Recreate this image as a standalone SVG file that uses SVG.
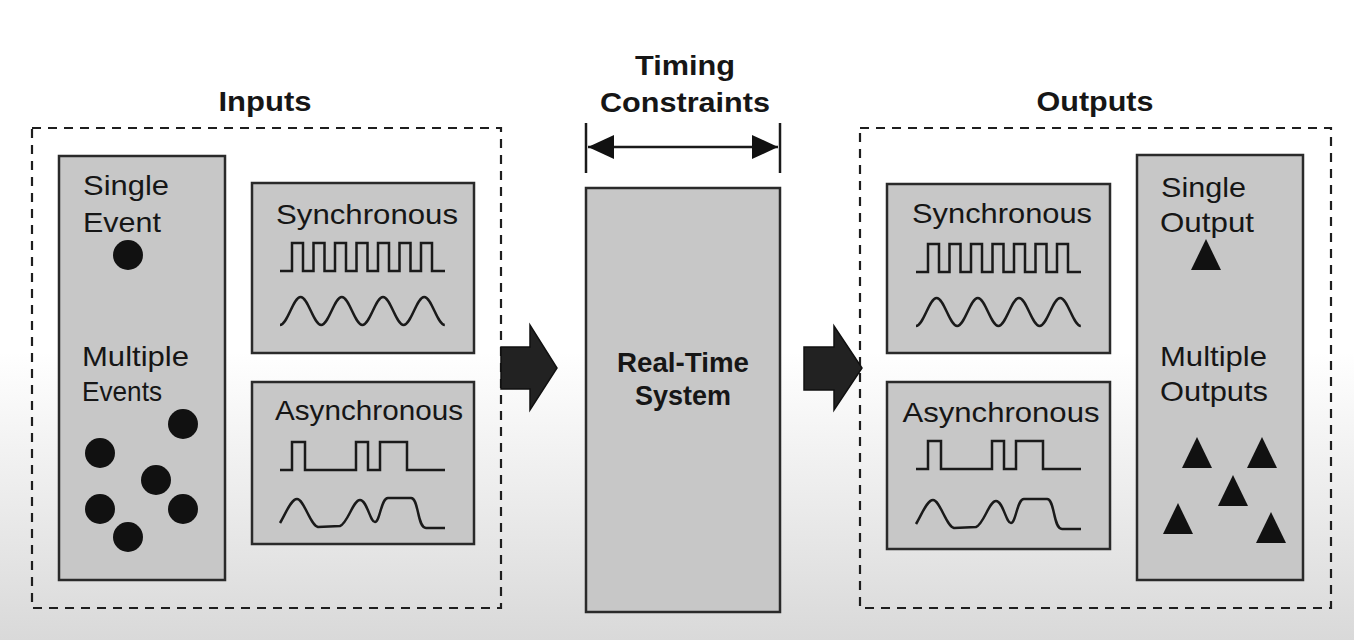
<svg xmlns="http://www.w3.org/2000/svg" width="1354" height="640" viewBox="0 0 1354 640">
<defs>
<linearGradient id="bg" x1="0" y1="0" x2="0" y2="1">
<stop offset="0" stop-color="#ffffff"/>
<stop offset="0.55" stop-color="#ffffff"/>
<stop offset="1" stop-color="#d9d9d9"/>
</linearGradient>
<path id="sq" d="M0,0 H12 V-28 H23 V0 H33.5 V-28 H44.5 V0 H55 V-28 H66 V0 H76.5 V-28 H87.5 V0 H98 V-28 H109 V0 H119.5 V-28 H130.5 V0 H141 V-28 H152 V0 H165"/>
<path id="sine" d="M0,0 c7.5,0 13.1,-28 20.6,-28 c7.5,0 13.1,28 20.6,28 c7.5,0 13.1,-28 20.6,-28 c7.5,0 13.1,28 20.6,28 c7.5,0 13.1,-28 20.6,-28 c7.5,0 13.1,28 20.6,28 c7.5,0 13.1,-28 20.6,-28 c7.5,0 13.1,28 20.6,28"/>
<path id="asq" d="M0,0 H12 V-28 H25 V0 H76 V-28 H88 V0 H100 V-28 H127 V0 H165"/>
<path id="awave" d="M0,0 C6,-10 11,-24 17,-24 C24,-24 30,2 38,4 L60,3 C68,0 73,-23 80,-23 C87,-23 90,-1 95,-1 C100,-1 101,-25 108,-25 L131,-25 C139,-25 137,5 146,5 L165,5"/>
<polygon id="tri" points="0,0 15,-31 30,0"/>
<marker id="ah" viewBox="0 0 26 24" refX="26" refY="12" markerWidth="26" markerHeight="24" markerUnits="userSpaceOnUse" orient="auto-start-reverse">
<path d="M0,0 L26,12 L0,24 Z" fill="#111"/>
</marker>
</defs>
<style>
.t{font-family:"Liberation Sans",Arial,sans-serif;font-size:28px;fill:#161616}
.b{font-family:"Liberation Sans",Arial,sans-serif;font-size:28px;font-weight:bold;fill:#161616}
.dash{fill:none;stroke:#1e1e1e;stroke-width:2.2;stroke-dasharray:9 7}
.panel{fill:#c7c7c7;stroke:#2a2a2a;stroke-width:2.5}
.w{fill:none;stroke:#1a1a1a;stroke-width:2.5;stroke-linejoin:miter}
.blk{fill:#111}
.big{fill:#222;stroke:#111;stroke-width:1.5;stroke-linejoin:miter}
</style>
<rect x="0" y="0" width="1354" height="640" fill="url(#bg)"/>

<g id="inputs">
<rect class="dash" x="32" y="128" width="469" height="480"/>
<text class="b" x="265" y="111" text-anchor="middle" textLength="93" lengthAdjust="spacingAndGlyphs">Inputs</text>
</g>

<g id="input-events">
<rect class="panel" x="59" y="156" width="166" height="424"/>
<text class="t" x="83" y="195" textLength="86" lengthAdjust="spacingAndGlyphs">Single</text>
<text class="t" x="83" y="232" textLength="78" lengthAdjust="spacingAndGlyphs">Event</text>
<circle class="blk" cx="128" cy="255" r="15"/>
<text class="t" x="82" y="366" textLength="107" lengthAdjust="spacingAndGlyphs">Multiple</text>
<text class="t" x="82" y="401" textLength="80" lengthAdjust="spacingAndGlyphs">Events</text>
<circle class="blk" cx="183" cy="424" r="15"/>
<circle class="blk" cx="100" cy="453" r="15"/>
<circle class="blk" cx="156" cy="480" r="15"/>
<circle class="blk" cx="100" cy="509" r="15"/>
<circle class="blk" cx="183" cy="509" r="15"/>
<circle class="blk" cx="128" cy="537" r="15"/>
</g>

<g id="input-sync">
<rect class="panel" x="252" y="183" width="222" height="170"/>
<text class="t" x="367" y="224" text-anchor="middle" textLength="182" lengthAdjust="spacingAndGlyphs">Synchronous</text>
<use href="#sq" class="w" x="280" y="271"/>
<use href="#sine" class="w" x="280" y="325"/>
</g>

<g id="input-async">
<rect class="panel" x="252" y="382" width="222" height="162"/>
<text class="t" x="369" y="420" text-anchor="middle" textLength="188" lengthAdjust="spacingAndGlyphs">Asynchronous</text>
<use href="#asq" class="w" x="280" y="470"/>
<use href="#awave" class="w" x="280" y="523"/>
</g>

<g id="timing">
<text class="b" x="685" y="75" text-anchor="middle" textLength="100" lengthAdjust="spacingAndGlyphs">Timing</text>
<text class="b" x="685" y="112" text-anchor="middle" textLength="170" lengthAdjust="spacingAndGlyphs">Constraints</text>
<line x1="586" y1="123" x2="586" y2="173" stroke="#1a1a1a" stroke-width="2.5"/>
<line x1="780" y1="123" x2="780" y2="173" stroke="#1a1a1a" stroke-width="2.5"/>
</g>

<g id="rts">
<rect class="panel" x="586" y="188" width="194" height="424"/>
<text class="b" x="683" y="372" text-anchor="middle" font-size="25" textLength="132" lengthAdjust="spacingAndGlyphs">Real-Time</text>
<text class="b" x="683" y="405" text-anchor="middle" font-size="25" textLength="96" lengthAdjust="spacingAndGlyphs">System</text>
</g>

<g id="outputs">
<rect class="dash" x="860" y="128" width="471" height="480"/>
<text class="b" x="1095" y="111" text-anchor="middle" textLength="117" lengthAdjust="spacingAndGlyphs">Outputs</text>
</g>

<g id="output-sync">
<rect class="panel" x="887" y="184" width="223" height="169"/>
<text class="t" x="1002" y="223" text-anchor="middle" textLength="180" lengthAdjust="spacingAndGlyphs">Synchronous</text>
<use href="#sq" class="w" x="916" y="272"/>
<use href="#sine" class="w" x="916" y="326"/>
</g>

<g id="output-async">
<rect class="panel" x="887" y="382" width="223" height="167"/>
<text class="t" x="1001" y="422" text-anchor="middle" textLength="197" lengthAdjust="spacingAndGlyphs">Asynchronous</text>
<use href="#asq" class="w" x="916" y="469"/>
<use href="#awave" class="w" x="916" y="524"/>
</g>

<g id="output-results">
<rect class="panel" x="1137" y="155" width="166" height="425"/>
<text class="t" x="1161" y="197" textLength="85" lengthAdjust="spacingAndGlyphs">Single</text>
<text class="t" x="1160" y="232" textLength="94" lengthAdjust="spacingAndGlyphs">Output</text>
<use href="#tri" class="blk" x="1191" y="270"/>
<text class="t" x="1160" y="366" textLength="107" lengthAdjust="spacingAndGlyphs">Multiple</text>
<text class="t" x="1160" y="401" textLength="108" lengthAdjust="spacingAndGlyphs">Outputs</text>
<use href="#tri" class="blk" x="1182" y="468"/>
<use href="#tri" class="blk" x="1247" y="468"/>
<use href="#tri" class="blk" x="1218" y="506"/>
<use href="#tri" class="blk" x="1163" y="534"/>
<use href="#tri" class="blk" x="1256" y="543"/>
</g>

<g id="connectors">
<line x1="588" y1="147" x2="778" y2="147" stroke="#1a1a1a" stroke-width="2.5" marker-start="url(#ah)" marker-end="url(#ah)"/>
<polygon class="big" points="501,347 530,347 530,325 557,368 530,410 530,389 501,389"/>
<polygon class="big" points="804,347 834,347 834,326 862,368 834,410 834,390 804,390"/>
</g>
</svg>
